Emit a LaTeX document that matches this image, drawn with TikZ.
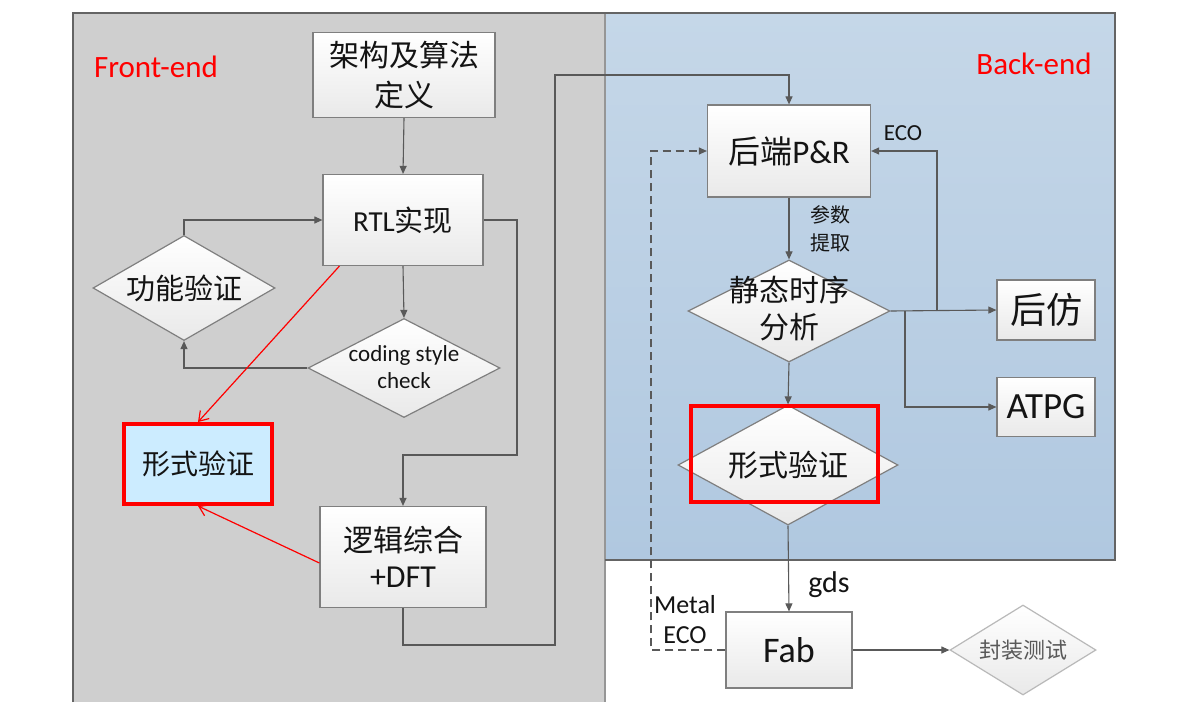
\documentclass[tikz,border=0pt]{standalone}
\usepackage{fontspec}
\setmainfont{Carlito}
\newfontfamily\cjk{Noto Sans CJK SC}
\usetikzlibrary{shapes.geometric,arrows.meta,calc}
\definecolor{linegray}{RGB}{89,89,89}
\definecolor{boxgray}{RGB}{127,127,127}
\definecolor{boxbot}{RGB}{233,233,233}
\definecolor{textcol}{RGB}{20,20,20}
\definecolor{bgray}{RGB}{207,207,207}
\definecolor{bluetop}{RGB}{197,215,232}
\definecolor{bluebot}{RGB}{176,200,224}
\definecolor{fvblue}{RGB}{204,236,255}
\definecolor{framecol}{RGB}{100,100,100}
\definecolor{sepcol}{RGB}{150,150,150}
\begin{document}
\begin{tikzpicture}[x=1pt,y=-1pt,
  line/.style={draw=linegray, line width=1.1pt},
  arr/.style={line, -{Triangle[length=8pt,width=7pt]}},
  box/.style={draw=boxgray, line width=1.2pt, top color=white, bottom color=boxbot, inner sep=0pt, text=textcol, align=center},
  dia/.style={diamond, draw=boxgray, line width=1.2pt, top color=white, bottom color=boxbot, inner sep=0pt},
  redarr/.style={draw=red, line width=1.2pt, -{Straight Barb[length=9pt,width=12pt]}},
  txt/.style={text=textcol, align=center, inner sep=0pt},
]
\useasboundingbox (0,0) rectangle (1193,702);
% backgrounds
\fill[white] (0,0) rectangle (1193,702);
\fill[bgray] (73,13) rectangle (605,702);
\shade[top color=bluetop, bottom color=bluebot] (605,13) rectangle (1115,560);
\draw[sepcol, line width=1.5pt] (605,13) -- (605,702);
\draw[framecol, line width=1.5pt] (73,702) -- (73,13) -- (1115,13) -- (1115,560) -- (605,560);

% labels of regions
\node[text=red, inner sep=0pt, font=\fontsize{31}{34}\selectfont] (fe) at (156,67) {Front-end};
\node[text=red, inner sep=0pt, font=\fontsize{31}{34}\selectfont] (be) at (1034,64) {Back-end};

% front-end nodes
\node[box, minimum width=182, minimum height=85, font=\cjk\fontsize{30}{40}\selectfont] (arch) at (404,75) {架构及算法\\定义};
\node[box, minimum width=160, minimum height=91, font=\fontsize{29}{32}\selectfont] (rtl) at (403,220) {RTL{\cjk 实现}};
\node[dia, minimum width=182, minimum height=105] (gn) at (184,288) {};
\node[txt, font=\cjk\fontsize{29}{34}\selectfont] (gnt) at (184,288) {功能验证};
\node[dia, minimum width=192, minimum height=99] (cs) at (404,368) {};
\node[txt, font=\fontsize{23}{27}\selectfont] (cst) at (404,367) {coding style\\check};
\node[box, minimum width=166, minimum height=101, font=\fontsize{30}{36}\selectfont] (lj) at (403,557) {{\cjk 逻辑综合}\\{\fontsize{32}{36}\selectfont +DFT}};
\node[draw=red, line width=4pt, fill=fvblue, inner sep=0pt, text=textcol, minimum width=148, minimum height=80, font=\cjk\fontsize{28}{32}\selectfont] (fvL) at (198,464) {形式验证};

% back-end nodes
\node[box, minimum width=163, minimum height=92, font=\fontsize{33}{36}\selectfont] (pr) at (789,151) {{\cjk\fontsize{32}{36}\selectfont 后端}P\&R};
\node[dia, minimum width=202, minimum height=102] (sta) at (789,311) {};
\node[txt, font=\cjk\fontsize{30}{37}\selectfont] (stat) at (789,309) {静态时序\\分析};
\node[box, minimum width=98, minimum height=60, font=\cjk\fontsize{36}{40}\selectfont] (hf) at (1046,310) {后仿};
\node[box, minimum width=98, minimum height=59, font=\fontsize{37}{40}\selectfont] (atpg) at (1046,407) {ATPG};
\node[dia, minimum width=220, minimum height=120] (fvR) at (788,465) {};
\node[txt, font=\cjk\fontsize{30}{34}\selectfont] (fvRt) at (788,465) {形式验证};
\node[draw=red, line width=4pt, inner sep=0pt, minimum width=187, minimum height=96] (hl) at (784.5,454) {};
\node[box, minimum width=126, minimum height=76, font=\fontsize{36}{38}\selectfont] (fab) at (789,650) {Fab};
\node[dia, draw=gray!55, minimum width=146, minimum height=90] (fz) at (1023,650) {};
\node[txt, text=linegray, font=\cjk\fontsize{22}{26}\selectfont] (fzt) at (1023,650) {封装测试};

% edge labels
\node[txt, font=\cjk\fontsize{20}{28}\selectfont] (cs1) at (830,229) {参数\\提取};
\node[txt, font=\fontsize{23}{24}\selectfont] (eco) at (903,133) {ECO};
\node[txt, font=\fontsize{30}{30}\selectfont] (gds) at (829,585) {gds};
\node[txt, font=\fontsize{26}{30}\selectfont] (meco) at (685,620) {Metal\\ECO};

% coordinates
\coordinate (c1) at (517,455);
\coordinate (c2) at (555,645);
\coordinate (c3) at (555,75);
\coordinate (b1) at (937,311);
\coordinate (b2) at (905,311);
\coordinate (c4) at (651,151);
\coordinate (r1) at ($(rtl.south west)+(17,0)$);
\coordinate (r2) at ($(lj.west)+(0,6)$);

% connectors
\draw[arr] (arch.south) -- (rtl.north);
\draw[arr] (gn.north) |- (rtl.west);
\draw[arr] (rtl.south) -- (cs.north);
\draw[arr] (cs.west) -| (gn.south);
\draw[arr] (rtl.east) -| (c1) -| (lj.north);
\draw[arr] (lj.south) |- (c2) -- (c3) -| (pr.north);
\draw[arr] (pr.south) -- (sta.north);
\draw[arr] (sta.east) -- (hf.west);
\draw[arr] (b1) |- (pr.east);
\draw[arr] (b2) |- (atpg.west);
\draw[arr] (sta.south) -- (fvR.north);
\draw[arr] (fvR.south) -- (fab.north);
\draw[arr] (fab.east) -- (fz.west);
\draw[arr, dashed, dash pattern=on 8pt off 5pt] (fab.west) -| (c4) -- (pr.west);
\draw[redarr] (r1) -- (fvL.north);
\draw[redarr] (r2) -- (fvL.south);
\end{tikzpicture}
\end{document}
